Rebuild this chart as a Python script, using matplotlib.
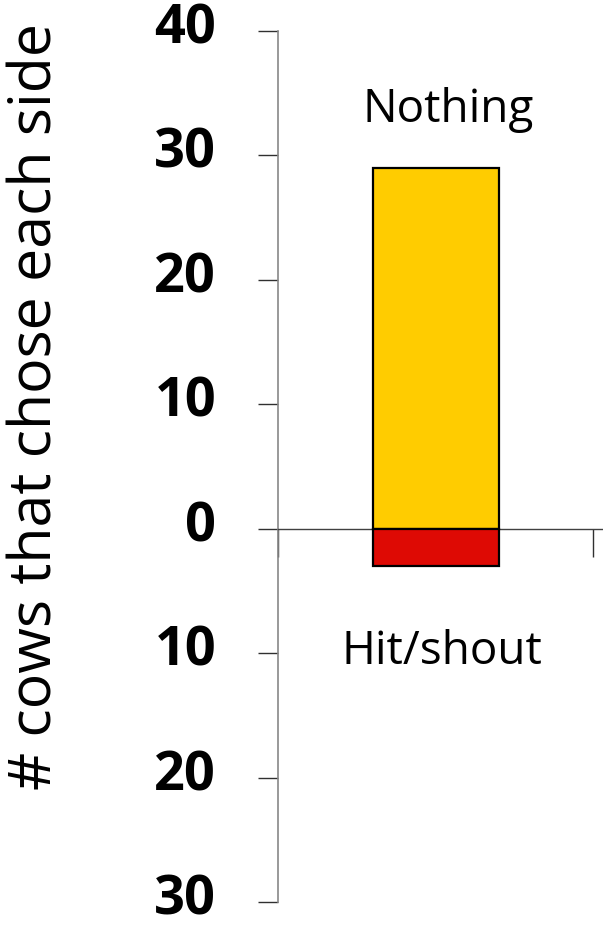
import matplotlib
matplotlib.use("Agg")
import matplotlib.pyplot as plt
from matplotlib.ticker import FuncFormatter
from matplotlib.transforms import ScaledTranslation

categories = ["Cows"]
nothing_vals = [29]
hit_vals = [-3]
yticks = [-30, -20, -10, 0, 10, 20, 30, 40]
label_top = "Nothing"
label_bottom = "Hit/shout"
ylabel = "# cows that chose each side"

W, H = 603, 925
fig = plt.figure(figsize=(W / 100, H / 100), dpi=100)
ax = fig.add_axes([278 / W, (H - 902) / H, (W - 278) / W, (902 - 31) / H])

x = list(range(len(categories)))
ax.bar(x, nothing_vals, width=0.4, color="#FFCC00", edgecolor="black", linewidth=1.6, zorder=3)
ax.bar(x, hit_vals, width=0.4, color="#DE0A04", edgecolor="black", linewidth=1.6, zorder=3)

ax.set_xlim(-0.5, 0.5 + 10 / 315)
ax.set_ylim(-30, 40)
ax.set_yticks(yticks)
ax.yaxis.set_major_formatter(FuncFormatter(lambda v, p: f"{abs(int(v))}"))
ax.set_xticks([-0.5, 0.5])
ax.set_xticklabels([])

for s in ["top", "right"]:
    ax.spines[s].set_visible(False)
ax.spines["bottom"].set_position(("data", 0))
ax.spines["bottom"].set_color("#404040")
ax.spines["bottom"].set_linewidth(1.0)
ax.spines["left"].set_color("#888888")
ax.spines["left"].set_linewidth(1.2)

ax.tick_params(axis="y", direction="out", length=14.5, width=1.0, color="#303030", pad=30,
               labelsize=39)
ax.tick_params(axis="x", direction="out", length=20, width=1.0, color="#303030")
shift = ScaledTranslation(0, 8 / 100, fig.dpi_scale_trans)
for lab in ax.get_yticklabels():
    lab.set_fontfamily("Open Sans")
    lab.set_fontweight("bold")
    lab.set_transform(lab.get_transform() + shift)

ax.text(0.041, 32.7, label_top, ha="center", va="baseline", fontsize=33, family="Open Sans")
ax.text(0.021, -10.86, label_bottom, ha="center", va="baseline", fontsize=33, family="Open Sans")

fig.text(36 / W, 1 - 406 / H, ylabel, rotation=90, ha="center", va="center",
         fontsize=42.5, family="Open Sans")

fig.savefig("out.png", dpi=100)
